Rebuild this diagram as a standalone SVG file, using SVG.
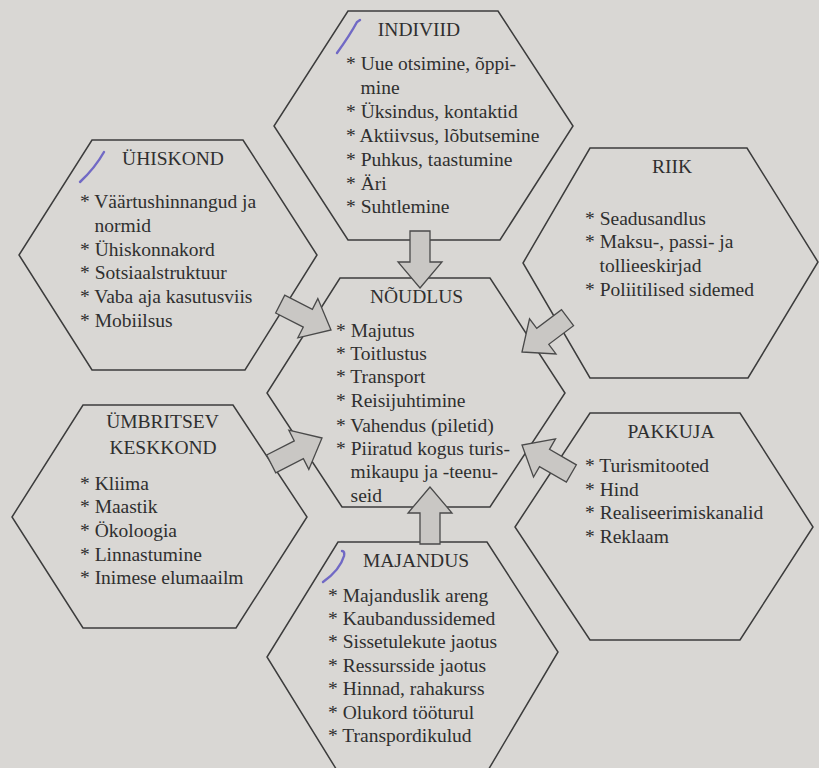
<svg xmlns="http://www.w3.org/2000/svg" width="819" height="768" viewBox="0 0 819 768">
  <defs>
    <!-- block arrow pointing along +x, tip at origin -->
    <polygon id="blockArrow" points="0,0 -26,-22 -26,-10 -57,-10 -57,10 -26,10 -26,22" fill="#c9c7c4" stroke="#4a4a4a" stroke-width="1.3"/>
  </defs>

  <!-- paper -->
  <rect x="0" y="0" width="819" height="768" fill="#d9d7d4"/>

  <!-- INDIVIID -->
  <g id="node-indiviid">
    <polygon points="348,11 498,11 573,126 500,240 348,240 274,126" fill="none" stroke="#3c3c3c" stroke-width="1.5"/>
    <path d="M337,53 Q350,35 357,22 L360,20" fill="none" stroke="#5e56c2" stroke-width="2.4" stroke-linecap="round" opacity="0.85"/>
    <text font-family="Liberation Serif" font-size="19.5" fill="#2f2f2f" text-anchor="middle" x="419" y="36">INDIVIID</text>
    <text font-family="Liberation Serif" font-size="19.5" fill="#2f2f2f" x="346" y="70">* Uue otsimine, õppi-</text>
    <text font-family="Liberation Serif" font-size="19.5" fill="#2f2f2f" x="360.6" y="94">mine</text>
    <text font-family="Liberation Serif" font-size="19.5" fill="#2f2f2f" x="346" y="118">* Üksindus, kontaktid</text>
    <text font-family="Liberation Serif" font-size="19.5" fill="#2f2f2f" x="346" y="142">* Aktiivsus, lõbutsemine</text>
    <text font-family="Liberation Serif" font-size="19.5" fill="#2f2f2f" x="346" y="166">* Puhkus, taastumine</text>
    <text font-family="Liberation Serif" font-size="19.5" fill="#2f2f2f" x="346" y="190">* Äri</text>
    <text font-family="Liberation Serif" font-size="19.5" fill="#2f2f2f" x="346" y="213">* Suhtlemine</text>
  </g>

  <!-- ÜHISKOND -->
  <g id="node-uhiskond">
    <polygon points="92,140 243,140 317,255 245,370 92,370 19,255" fill="none" stroke="#3c3c3c" stroke-width="1.5"/>
    <path d="M80,182 Q95,168 104,152" fill="none" stroke="#5e56c2" stroke-width="2.4" stroke-linecap="round" opacity="0.85"/>
    <text font-family="Liberation Serif" font-size="19.5" fill="#2f2f2f" text-anchor="middle" x="173" y="165">ÜHISKOND</text>
    <text font-family="Liberation Serif" font-size="19.5" fill="#2f2f2f" x="80" y="208">* Väärtushinnangud ja</text>
    <text font-family="Liberation Serif" font-size="19.5" fill="#2f2f2f" x="94.6" y="232">normid</text>
    <text font-family="Liberation Serif" font-size="19.5" fill="#2f2f2f" x="80" y="256">* Ühiskonnakord</text>
    <text font-family="Liberation Serif" font-size="19.5" fill="#2f2f2f" x="80" y="279">* Sotsiaalstruktuur</text>
    <text font-family="Liberation Serif" font-size="19.5" fill="#2f2f2f" x="80" y="303">* Vaba aja kasutusviis</text>
    <text font-family="Liberation Serif" font-size="19.5" fill="#2f2f2f" x="80" y="327">* Mobiilsus</text>
  </g>

  <!-- ÜMBRITSEV KESKKOND -->
  <g id="node-umbritsev-keskkond">
    <polygon points="83,405 233,405 307,517 236,628 83,628 12,517" fill="none" stroke="#3c3c3c" stroke-width="1.5"/>
    <text font-family="Liberation Serif" font-size="19.5" fill="#2f2f2f" text-anchor="middle" x="162.5" y="428">ÜMBRITSEV</text>
    <text font-family="Liberation Serif" font-size="19.5" fill="#2f2f2f" text-anchor="middle" x="163" y="454">KESKKOND</text>
    <text font-family="Liberation Serif" font-size="19.5" fill="#2f2f2f" x="80" y="490">* Kliima</text>
    <text font-family="Liberation Serif" font-size="19.5" fill="#2f2f2f" x="80" y="513">* Maastik</text>
    <text font-family="Liberation Serif" font-size="19.5" fill="#2f2f2f" x="80" y="537">* Ökoloogia</text>
    <text font-family="Liberation Serif" font-size="19.5" fill="#2f2f2f" x="80" y="561">* Linnastumine</text>
    <text font-family="Liberation Serif" font-size="19.5" fill="#2f2f2f" x="80" y="584">* Inimese elumaailm</text>
  </g>

  <!-- NÕUDLUS -->
  <g id="node-noudlus">
    <polygon points="340,278 490,278 565,393 490,507 342,507 267,393" fill="none" stroke="#3c3c3c" stroke-width="1.5"/>
    <text font-family="Liberation Serif" font-size="19.5" fill="#2f2f2f" text-anchor="middle" x="416.5" y="303">NÕUDLUS</text>
    <text font-family="Liberation Serif" font-size="19.5" fill="#2f2f2f" x="336" y="337">* Majutus</text>
    <text font-family="Liberation Serif" font-size="19.5" fill="#2f2f2f" x="336" y="360">* Toitlustus</text>
    <text font-family="Liberation Serif" font-size="19.5" fill="#2f2f2f" x="336" y="383">* Transport</text>
    <text font-family="Liberation Serif" font-size="19.5" fill="#2f2f2f" x="336" y="407">* Reisijuhtimine</text>
    <text font-family="Liberation Serif" font-size="19.5" fill="#2f2f2f" x="336" y="432">* Vahendus (piletid)</text>
    <text font-family="Liberation Serif" font-size="19.5" fill="#2f2f2f" x="336" y="455">* Piiratud kogus turis-</text>
    <text font-family="Liberation Serif" font-size="19.5" fill="#2f2f2f" x="350.6" y="478">mikaupu ja -teenu-</text>
    <text font-family="Liberation Serif" font-size="19.5" fill="#2f2f2f" x="350.6" y="502">seid</text>
  </g>

  <!-- RIIK -->
  <g id="node-riik">
    <polygon points="590,148 747,148 818,262 748,378 590,378 523,263" fill="none" stroke="#3c3c3c" stroke-width="1.5"/>
    <text font-family="Liberation Serif" font-size="19.5" fill="#2f2f2f" text-anchor="middle" x="672" y="173">RIIK</text>
    <text font-family="Liberation Serif" font-size="19.5" fill="#2f2f2f" x="585" y="225">* Seadusandlus</text>
    <text font-family="Liberation Serif" font-size="19.5" fill="#2f2f2f" x="585" y="248">* Maksu-, passi- ja</text>
    <text font-family="Liberation Serif" font-size="19.5" fill="#2f2f2f" x="599.6" y="272">tollieeskirjad</text>
    <text font-family="Liberation Serif" font-size="19.5" fill="#2f2f2f" x="585" y="296">* Poliitilised sidemed</text>
  </g>

  <!-- PAKKUJA -->
  <g id="node-pakkuja">
    <polygon points="590,413 740,413 813,527 740,640 590,640 515,527" fill="none" stroke="#3c3c3c" stroke-width="1.5"/>
    <text font-family="Liberation Serif" font-size="19.5" fill="#2f2f2f" text-anchor="middle" x="671" y="438">PAKKUJA</text>
    <text font-family="Liberation Serif" font-size="19.5" fill="#2f2f2f" x="585" y="472">* Turismitooted</text>
    <text font-family="Liberation Serif" font-size="19.5" fill="#2f2f2f" x="585" y="496">* Hind</text>
    <text font-family="Liberation Serif" font-size="19.5" fill="#2f2f2f" x="585" y="519">* Realiseerimiskanalid</text>
    <text font-family="Liberation Serif" font-size="19.5" fill="#2f2f2f" x="585" y="543">* Reklaam</text>
  </g>

  <!-- MAJANDUS -->
  <g id="node-majandus">
    <polygon points="338,542 487,542 558,652 487,772 338,772 267,657" fill="none" stroke="#3c3c3c" stroke-width="1.5"/>
    <path d="M323,582 Q340,570 344,556 Q345,551 342,551" fill="none" stroke="#5e56c2" stroke-width="2.4" stroke-linecap="round" opacity="0.85"/>
    <text font-family="Liberation Serif" font-size="19.5" fill="#2f2f2f" text-anchor="middle" x="416" y="567">MAJANDUS</text>
    <text font-family="Liberation Serif" font-size="19.5" fill="#2f2f2f" x="328" y="602">* Majanduslik areng</text>
    <text font-family="Liberation Serif" font-size="19.5" fill="#2f2f2f" x="328" y="625">* Kaubandussidemed</text>
    <text font-family="Liberation Serif" font-size="19.5" fill="#2f2f2f" x="328" y="648">* Sissetulekute jaotus</text>
    <text font-family="Liberation Serif" font-size="19.5" fill="#2f2f2f" x="328" y="672">* Ressursside jaotus</text>
    <text font-family="Liberation Serif" font-size="19.5" fill="#2f2f2f" x="328" y="695">* Hinnad, rahakurss</text>
    <text font-family="Liberation Serif" font-size="19.5" fill="#2f2f2f" x="328" y="719">* Olukord tööturul</text>
    <text font-family="Liberation Serif" font-size="19.5" fill="#2f2f2f" x="328" y="742">* Transpordikulud</text>
  </g>

  <!-- block arrows into NÕUDLUS -->
  <g id="connectors">
    <use href="#blockArrow" transform="translate(420,288) rotate(90)"/>
    <use href="#blockArrow" transform="translate(430,487) rotate(-90)"/>
    <use href="#blockArrow" transform="translate(331,330) rotate(27)"/>
    <use href="#blockArrow" transform="translate(322,438) rotate(-27)"/>
    <use href="#blockArrow" transform="translate(522,352) rotate(143)"/>
    <use href="#blockArrow" transform="translate(522,445) rotate(-150)"/>
  </g>
</svg>
